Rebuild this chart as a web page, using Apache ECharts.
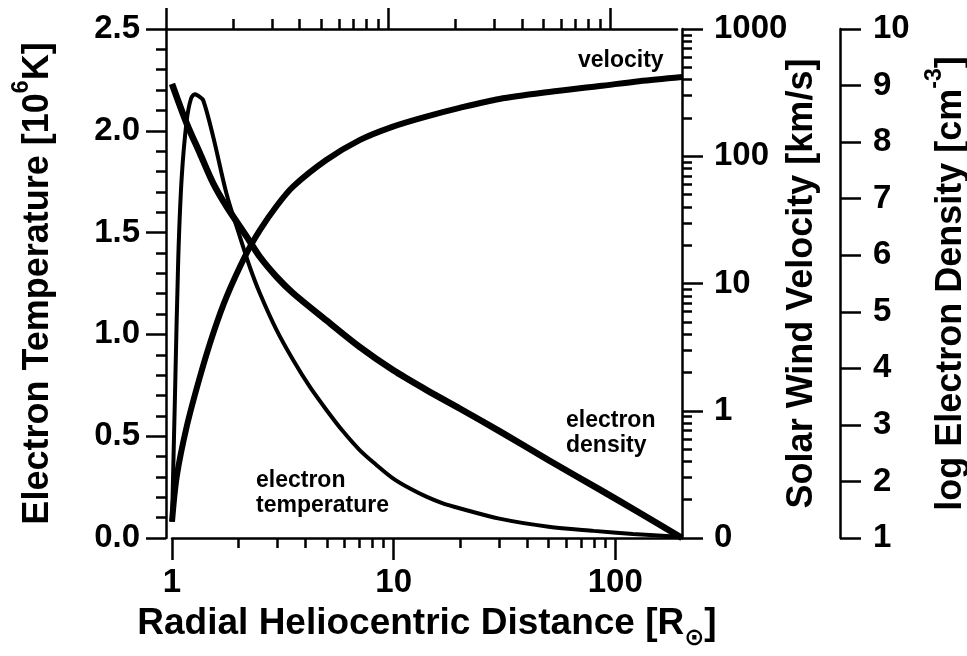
<!DOCTYPE html>
<html>
<head>
<meta charset="utf-8">
<script src="https://cdn.jsdelivr.net/npm/echarts@6/dist/echarts.min.js"></script>
<style>html,body{margin:0;padding:0;background:#fff}#c{width:967px;height:656px}</style>
</head>
<body>
<div id="c"></div>
<script>
// ---- data ----
// Radial heliocentric distance [R_sun] sample points for each curve
const tempDist = [1.0, 1.032, 1.067, 1.106, 1.165, 1.22, 1.269, 1.32, 1.383, 1.535, 1.763, 2.024, 2.246, 2.491, 2.961, 3.52, 4.183, 4.975, 5.909, 7.028, 8.357, 9.93, 11.8, 14.04, 16.68, 19.83, 30, 50, 80, 120, 200];
// Electron temperature [10^6 K]
const tempVal  = [0.08, 0.71, 1.37, 1.77, 2.05, 2.16, 2.18, 2.17, 2.15, 1.97, 1.69, 1.48, 1.33, 1.202, 1.022, 0.874, 0.743, 0.629, 0.524, 0.432, 0.359, 0.293, 0.244, 0.203, 0.170, 0.146, 0.095, 0.055, 0.035, 0.02, 0.005];

const densDist = [1.0, 1.165, 1.337, 1.535, 1.763, 2.171, 2.492, 2.96, 3.516, 4.966, 7.02, 9.93, 14.03, 19.86, 30, 50.3, 84.8, 128, 200];
// log electron density [cm^-3]
const densVal  = [9.03, 8.33, 7.80, 7.27, 6.86, 6.33, 5.97, 5.62, 5.33, 4.85, 4.38, 3.97, 3.62, 3.29, 2.89, 2.37, 1.86, 1.45, 1.0];

const velDist = [1.0, 1.05, 1.165, 1.337, 1.535, 1.763, 2.171, 2.492, 2.96, 3.516, 4.966, 7.02, 9.93, 14.03, 19.86, 30, 50.3, 84.8, 128, 200];
// Solar wind velocity [km/s]
const velVal  = [0.134, 0.303, 0.75, 1.85, 4.06, 7.87, 17.3, 26.3, 40.5, 57.7, 93.4, 134, 171, 205, 240, 282, 320, 356, 389, 420];

// tick labels
const distTicks = [1, 10, 100];
const tempTicks = ['0.0', '0.5', '1.0', '1.5', '2.0', '2.5'];
const velTicks  = ['0', '1', '10', '100', '1000'];
const densTicks = ['1', '2', '3', '4', '5', '6', '7', '8', '9', '10'];

// ---- chart ----
const FONT = '"Liberation Sans", Arial, Helvetica, sans-serif';
const zip = (a, b) => a.map((v, i) => [v, b[i]]);
const LW = 2.5;
const line = { color: '#000', width: LW };
const tickLabel = { fontSize: 33, fontWeight: 'bold', color: '#000', fontFamily: FONT };
const titleRich = {
  n:   { fontSize: 36, fontWeight: 'bold', fontFamily: FONT, color: '#000', lineHeight: 46, verticalAlign: 'bottom' },
  sup: { fontSize: 23, fontWeight: 'bold', fontFamily: FONT, color: '#000', verticalAlign: 'top' }
};
const subRich = {
  n:   { fontSize: 37, fontWeight: 'bold', fontFamily: FONT, color: '#000', lineHeight: 46, verticalAlign: 'top' },
  sub: { fontSize: 24, fontWeight: 'bold', fontFamily: '"DejaVu Sans", sans-serif', color: '#000', verticalAlign: 'bottom' }
};

const chart = echarts.init(document.getElementById('c'), null, { renderer: 'canvas' });
const option = {
  animation: false,
  backgroundColor: '#fff',
  grid: [
    { left: 172, right: 285, top: 29, bottom: 118, containLabel: false, outerBoundsMode: 'none' },
    { left: 166, right: 290, top: 29, bottom: 118, containLabel: false, outerBoundsMode: 'none' }
  ],
  xAxis: [
    {
      type: 'log', logBase: 10, min: 1, max: 200, gridIndex: 0, position: 'bottom',
      axisLine: { show: true, onZero: false, lineStyle: line },
      axisTick: { show: true, inside: false, length: 22, lineStyle: line, customValues: distTicks },
      minorTick: { show: true, splitNumber: 9, length: 10, lineStyle: line },
      splitLine: { show: false }, minorSplitLine: { show: false },
      axisLabel: Object.assign({ customValues: distTicks, margin: 28, formatter: v => String(Math.round(v)) }, tickLabel),
      name: '{n|Radial Heliocentric Distance [R}{sub|\u2299}{n|]}',
      nameLocation: 'middle', nameGap: 67, nameMoveOverlap: false,
      nameTextStyle: { rich: subRich }
    },
    {
      type: 'log', logBase: 10, min: 1, max: 200, gridIndex: 1, position: 'top',
      axisLine: { show: true, onZero: false, lineStyle: line },
      axisTick: { show: true, inside: false, length: 21, lineStyle: line, customValues: distTicks },
      minorTick: { show: true, splitNumber: 9, length: 10, lineStyle: line },
      splitLine: { show: false }, minorSplitLine: { show: false },
      axisLabel: { show: false }
    }
  ],
  yAxis: [
    {
      type: 'value', min: 0, max: 2.5, interval: 0.5, gridIndex: 0, position: 'left', offset: 6,
      axisLine: { show: true, onZero: false, lineStyle: line },
      axisTick: { show: true, inside: false, length: 20, lineStyle: line },
      minorTick: { show: true, splitNumber: 5, length: 10, lineStyle: line },
      splitLine: { show: false },
      axisLabel: Object.assign({ margin: 26, formatter: v => tempTicks[Math.round(v / 0.5)] }, tickLabel),
      name: '{n|Electron Temperature [10}{sup|6}{n|K]}',
      nameLocation: 'middle', nameRotate: 90, nameGap: 110, nameMoveOverlap: false,
      nameTextStyle: { rich: titleRich }
    },
    {
      type: 'log', logBase: 10, min: 0.1, max: 1000, gridIndex: 0, position: 'right', offset: 0,
      axisLine: { show: true, onZero: false, lineStyle: line },
      axisTick: { show: true, inside: false, length: 21, lineStyle: line },
      minorTick: { show: true, splitNumber: 9, length: 10, lineStyle: line },
      splitLine: { show: false }, minorSplitLine: { show: false },
      axisLabel: Object.assign({ margin: 32, formatter: v => velTicks[Math.round(Math.log10(v)) + 1] }, tickLabel),
      name: '{n|Solar Wind Velocity [km/s]}',
      nameLocation: 'middle', nameRotate: 90, nameGap: 92, nameMoveOverlap: false,
      nameTextStyle: { rich: titleRich }
    },
    {
      type: 'value', min: 1, max: 10, interval: 1, gridIndex: 0, position: 'right', offset: 158,
      axisLine: { show: true, onZero: false, lineStyle: line },
      axisTick: { show: true, inside: false, length: 21, lineStyle: line },
      splitLine: { show: false },
      axisLabel: Object.assign({ margin: 33, formatter: v => densTicks[Math.round(v) - 1] }, tickLabel),
      name: '{n|log Electron Density [cm}{sup|-3}{n|]}',
      nameLocation: 'middle', nameRotate: 90, nameGap: 83, nameMoveOverlap: false,
      nameTextStyle: { rich: titleRich }
    },
    { type: 'value', gridIndex: 1, show: false, min: 0, max: 1 }
  ],
  series: [
    {
      name: 'electron temperature', type: 'line', xAxisIndex: 0, yAxisIndex: 0,
      data: zip(tempDist, tempVal), showSymbol: false, smooth: 0.3,
      lineStyle: { color: '#000', width: 4 }, z: 3
    },
    {
      name: 'electron density', type: 'line', xAxisIndex: 0, yAxisIndex: 2,
      data: zip(densDist, densVal), showSymbol: false, smooth: 0.3,
      lineStyle: { color: '#000', width: 6.5 }, z: 3
    },
    {
      name: 'velocity', type: 'line', xAxisIndex: 0, yAxisIndex: 1,
      data: zip(velDist, velVal), showSymbol: false, smooth: 0.3,
      lineStyle: { color: '#000', width: 6 }, z: 3
    }
  ],
  graphic: [
    { type: 'text', left: 578, top: 49, style: { text: 'velocity', font: 'bold 23px ' + FONT, fill: '#000' } },
    { type: 'text', left: 566, top: 408, style: { text: 'electron\ndensity', font: 'bold 23px ' + FONT, fill: '#000', lineHeight: 25 } },
    { type: 'text', left: 256, top: 468, style: { text: 'electron\ntemperature', font: 'bold 23px ' + FONT, fill: '#000', lineHeight: 25 } }
  ]
};
chart.setOption(option);
</script>
</body>
</html>
